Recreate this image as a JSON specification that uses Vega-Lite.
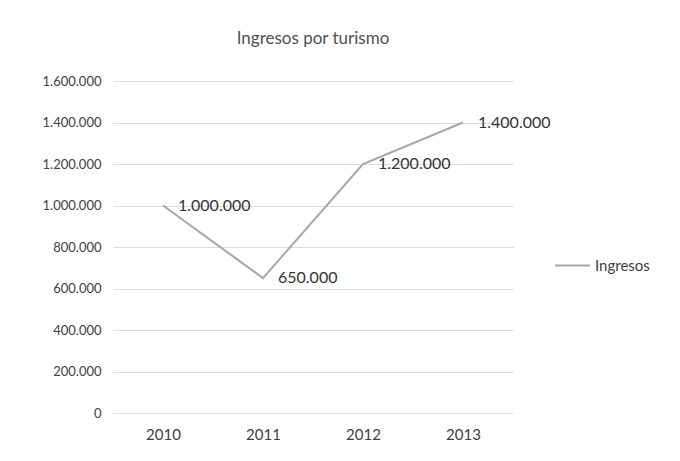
{
  "$schema": "https://vega.github.io/schema/vega-lite/v6.json",
  "autosize": "none",
  "width": 400,
  "height": 332,
  "padding": {"left": 113, "top": 81, "right": 167, "bottom": 48},
  "background": "white",
  "config": {
    "locale": {"number": {"decimal": ",", "thousands": ".", "grouping": [3], "currency": ["", " €"]}},
    "font": "Lato",
    "view": {"stroke": null}
  },
  "title": {"text": "Ingresos por turismo", "fontSize": 17, "fontWeight": "normal", "color": "#505050", "offset": 27, "font": "Lato"},
  "data": {"values": [
    {"year": "2010", "value": 1000000, "serie": "Ingresos"},
    {"year": "2011", "value": 650000, "serie": "Ingresos"},
    {"year": "2012", "value": 1200000, "serie": "Ingresos"},
    {"year": "2013", "value": 1400000, "serie": "Ingresos"}
  ]},
  "encoding": {
    "x": {"field": "year", "type": "ordinal", "title": null,
      "scale": {"paddingInner": 0, "paddingOuter": 0.5},
      "axis": {"labelAngle": 0, "labelFontSize": 15, "labelColor": "#404040", "labelPadding": 14, "ticks": false, "domainColor": "#e0e0e0", "grid": false}},
    "y": {"field": "value", "type": "quantitative", "title": null,
      "scale": {"domain": [0, 1600000]},
      "axis": {"values": [0, 200000, 400000, 600000, 800000, 1000000, 1200000, 1400000, 1600000], "format": ",d", "labelFontSize": 13, "labelColor": "#404040", "labelPadding": 12, "ticks": false, "domain": false, "gridColor": "#dcdcdc"}}
  },
  "layer": [
    {"mark": {"type": "line", "strokeWidth": 2},
     "encoding": {"color": {"field": "serie", "type": "nominal", "title": null,
       "scale": {"range": ["#a6a6a6"]},
       "legend": {"orient": "none", "legendX": 441, "legendY": 166, "labelFontSize": 15, "labelColor": "#404040", "symbolType": "stroke", "symbolSize": 1200, "symbolStrokeWidth": 2, "labelOffset": 4}}}},
    {"mark": {"type": "text", "align": "left", "baseline": "middle", "dx": 15, "fontSize": 16, "color": "#333333"},
     "encoding": {"text": {"field": "value", "type": "quantitative", "format": ",d"}}}
  ]
}
